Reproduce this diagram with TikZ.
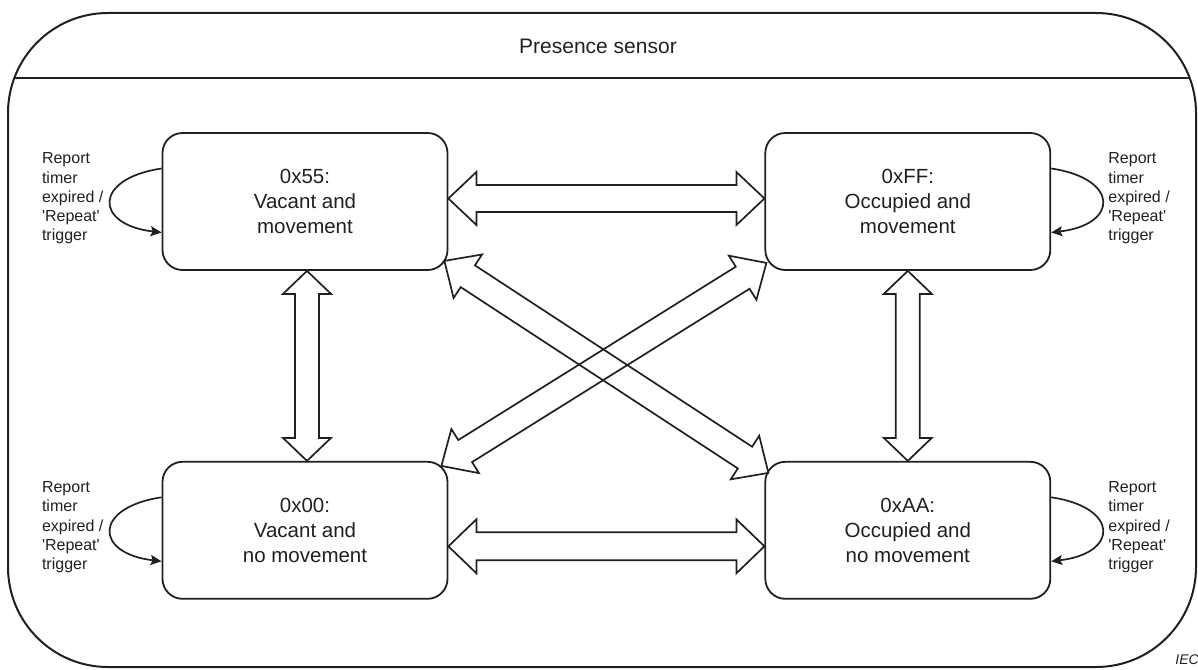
\documentclass[tikz,border=0pt]{standalone}
\usepackage{fontspec}
\setmainfont{Liberation Sans}
\usetikzlibrary{positioning,calc,arrows.meta}
\definecolor{ink}{RGB}{35,31,32}
\newcommand{\sidetext}{Report\\timer\\expired /\\\textquotesingle Repeat\textquotesingle\\trigger}
% hollow two-headed block arrow: tip, tip, head length, head half width, shaft half width
\newcommand{\dblarrow}[5]{%
  \draw[blockarrow] (#1)
    -- ($(#1)!#3!(#2)!#4!90:(#2)$)
    -- ($(#1)!#3!(#2)!#5!90:(#2)$)
    -- ($(#2)!#3!(#1)!#5!-90:(#1)$)
    -- ($(#2)!#3!(#1)!#4!-90:(#1)$)
    -- (#2)
    -- ($(#2)!#3!(#1)!#4!90:(#1)$)
    -- ($(#2)!#3!(#1)!#5!90:(#1)$)
    -- ($(#1)!#3!(#2)!#5!-90:(#2)$)
    -- ($(#1)!#3!(#2)!#4!-90:(#2)$)
    -- cycle;}

\begin{document}
\begin{tikzpicture}[x=1pt,y=-1pt,
  node distance=190pt and 316pt,
  state/.style={rectangle,rounded corners=20pt,draw=ink,line width=1.8pt,
    minimum width=285pt,minimum height=137pt,align=center,
    font=\fontsize{20.5}{25}\selectfont,text=ink},
  sidelabel/.style={align=left,inner sep=0pt,
    font=\fontsize{16}{19.3}\selectfont,text=ink},
  selfloop/.style={draw=ink,line width=1.7pt,
    -{Stealth[length=11pt,width=10pt,inset=2pt]}},
  blockarrow/.style={draw=ink,line width=1.7pt,line join=miter}
]
\useasboundingbox (0,0) rectangle (1198,669);

% frame and title
\draw[ink,line width=2pt,rounded corners=100pt] (8,13) rectangle (1196,667);
\draw[ink,line width=1.7pt] (14.3,78) -- (1189.7,78);
\node[text=ink,font=\fontsize{21}{25}\selectfont] (title) at (598,46) {Presence sensor};

% states
\node[state] (n55) at (305,201.5) {0x55:\\Vacant and\\movement};
\node[state,right=of n55] (nFF) {0xFF:\\Occupied and\\movement};
\node[state,below=of n55] (n00) {0x00:\\Vacant and\\no movement};
\node[state,right=of n00] (nAA) {0xAA:\\Occupied and\\no movement};

% self transitions
\node[sidelabel,left=58pt of n55.west,yshift=3pt] (l55) {\sidetext};
\node[sidelabel,right=57pt of nFF.east,yshift=3pt] (lFF) {\sidetext};
\node[sidelabel,left=58pt of n00.west,yshift=3pt] (l00) {\sidetext};
\node[sidelabel,right=57pt of nAA.east,yshift=3pt] (lAA) {\sidetext};
\draw[selfloop] ($(n55.west)+(0,-33)$) .. controls +(-68,10) and +(-68,-8) .. ($(n55.west)+(0,31)$);
\draw[selfloop] ($(n00.west)+(0,-33)$) .. controls +(-68,10) and +(-68,-8) .. ($(n00.west)+(0,31)$);
\draw[selfloop] ($(nFF.east)+(0,-33)$) .. controls +(68,10) and +(68,-8) .. ($(nFF.east)+(0,31)$);
\draw[selfloop] ($(nAA.east)+(0,-33)$) .. controls +(68,10) and +(68,-8) .. ($(nAA.east)+(0,31)$);

% transitions between states
\coordinate (h1a) at ($(n55.east)+(0,-3)$);
\coordinate (h1b) at ($(nFF.west)+(0,-3)$);
\coordinate (h2a) at ($(n00.east)+(0,16)$);
\coordinate (h2b) at ($(nAA.west)+(0,16)$);
\coordinate (v1a) at ($(n55.south)+(2,0)$);
\coordinate (v1b) at ($(n00.north)+(2,0)$);
\coordinate (d1a) at ($(n55.south east)+(-4,-10)$);
\coordinate (d1b) at ($(nAA.north west)+(4,12)$);
\coordinate (d2a) at ($(n00.north east)+(-7,5)$);
\coordinate (d2b) at ($(nFF.south west)+(2,-8)$);
\dblarrow{h1a}{h1b}{28pt}{26.5pt}{13.5pt}
\dblarrow{h2a}{h2b}{28pt}{27pt}{14pt}
\dblarrow{v1a}{v1b}{23pt}{24pt}{12pt}
\dblarrow{nFF.south}{nAA.north}{23pt}{24pt}{12pt}
\dblarrow{d1a}{d1b}{28pt}{26pt}{13pt}
\dblarrow{d2a}{d2b}{28pt}{26pt}{13pt}

\node[anchor=east,inner sep=0pt,text=ink,font=\fontsize{14}{16}\itshape] (iec) at (1199,660) {IEC};
\end{tikzpicture}
\end{document}
